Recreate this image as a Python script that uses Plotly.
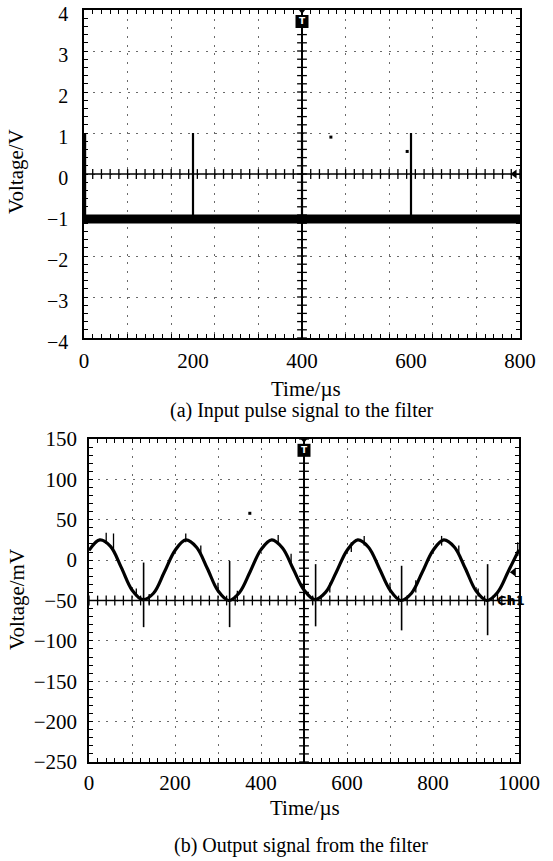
import plotly.graph_objects as go
import numpy as np

# ---------------- Panel (a): input pulse signal ----------------
in_time_range = [0, 800]          # µs
in_volt_range = [-4, 4]           # V
in_tick_times = [0, 200, 400, 600, 800]
in_tick_volts = [-4, -3, -2, -1, 0, 1, 2, 3, 4]
in_grid_dt = 80                   # scope division (µs)
pulse_times = [2, 200, 400, 600]  # µs
pulse_peak = [1.0, 1.0, 1.0, 1.0] # V
baseline_level = -1.1             # V
in_stray_t = [453, 593, 800]
in_stray_v = [0.9, 0.55, -2.05]
in_center_t = 400
in_center_v = 0
in_trigger_v = 3.72
in_ref_arrow_v = 0

# ---------------- Panel (b): output signal ----------------
out_time_range = [0, 1000]        # µs
out_volt_range = [-250, 150]      # mV
out_tick_times = [0, 100, 200, 300, 400, 500, 600, 700, 800, 900, 1000]
out_tick_text = ["0", "", "200", "", "400", "", "600", "", "800", "", "1000"]
out_tick_volts = [-250, -200, -150, -100, -50, 0, 50, 100, 150]
out_t = [0, 25, 50, 75, 100, 125, 150, 175,
         200, 225, 250, 275, 300, 325, 350, 375,
         400, 425, 450, 475, 500, 525, 550, 575,
         600, 625, 650, 675, 700, 725, 750, 775,
         800, 825, 850, 875, 900, 925, 950, 975, 1000]
out_v = [12, 25, 17, -9, -37, -49, -41, -15,
         12, 25, 16, -10, -38, -50, -40, -14,
         13, 25, 15, -11, -37, -49, -40, -15,
         12, 25, 16, -10, -37, -50, -41, -15,
         12, 25, 16, -10, -38, -50, -40, -14, 13]
spike_t = [127, 327, 527, 727, 927]
spike_top = [-3, -1, -5, -7, -5]
spike_bottom = [-83, -83, -82, -87, -93]
noise_t = [40, 57, 110, 140, 225, 260, 300, 345, 440, 470, 520, 560,
           610, 640, 700, 760, 820, 860, 905, 950, 997]
noise_lo = [20, 10, -45, -55, 22, 5, -40, -52, 20, -5, -55, -40,
            10, 18, -40, -40, 18, 5, -45, -50, 5]
noise_hi = [34, 33, -35, -42, 33, 18, -28, -38, 31, 8, -45, -28,
            22, 30, -28, -25, 30, 18, -35, -38, 22]
out_stray_t = [374]
out_stray_v = [58]
out_center_t = 500
out_center_v = -50
out_trigger_v = 136
out_ref_arrow_v = -15
ch1_t = 945

FONT = "Liberation Serif"
W, H = 553, 861
GRID_COLOR = "#6a6a6a"
GRID_DASH = "2px,6.7px"


def px_x(p):
    return p / W


def px_y(p):
    return (H - p) / H


fig = go.Figure()


def seg_xy(xs, lo, hi):
    X, Y = [], []
    for x, a, b in zip(xs, lo, hi):
        X += [x, x, None]
        Y += [a, b, None]
    return X, Y


# ---- Panel (a) traces ----
cv = np.arange(in_volt_range[0], in_volt_range[1] + 1e-9, 0.2)
fig.add_trace(go.Scatter(x=[in_center_t] * len(cv), y=cv, mode="lines+markers",
                         line=dict(color="black", width=2),
                         marker=dict(symbol="line-ew", size=7, line=dict(color="black", width=1.3)),
                         xaxis="x", yaxis="y", hoverinfo="skip", showlegend=False))
ch = np.arange(in_time_range[0], in_time_range[1] + 1e-9, in_grid_dt / 5)
fig.add_trace(go.Scatter(x=ch, y=[in_center_v] * len(ch), mode="lines+markers",
                         line=dict(color="black", width=1.5),
                         marker=dict(symbol="line-ns", size=7, line=dict(color="black", width=1.3)),
                         xaxis="x", yaxis="y", hoverinfo="skip", showlegend=False))
fig.add_trace(go.Scatter(x=in_time_range, y=[baseline_level] * 2, mode="lines",
                         line=dict(color="black", width=9),
                         xaxis="x", yaxis="y", hoverinfo="skip", showlegend=False))
px_, py_ = seg_xy(pulse_times, [baseline_level] * len(pulse_times), pulse_peak)
fig.add_trace(go.Scatter(x=px_, y=py_, mode="lines", line=dict(color="black", width=2.2),
                         xaxis="x", yaxis="y", hoverinfo="skip", showlegend=False))
fig.add_trace(go.Scatter(x=in_stray_t, y=in_stray_v, mode="markers",
                         marker=dict(symbol="square", size=3, color="black"),
                         xaxis="x", yaxis="y", cliponaxis=False, showlegend=False))
fig.add_trace(go.Scatter(x=[in_center_t], y=[in_volt_range[1]], mode="markers",
                         marker=dict(symbol="triangle-down", size=8, color="black"),
                         xaxis="x", yaxis="y", cliponaxis=False, showlegend=False))
fig.add_trace(go.Scatter(x=[in_center_t], y=[in_trigger_v], mode="markers",
                         marker=dict(symbol="square", size=13, color="black"),
                         xaxis="x", yaxis="y", cliponaxis=False, showlegend=False))
fig.add_trace(go.Scatter(x=[in_time_range[0] - 7], y=[in_ref_arrow_v], mode="markers",
                         marker=dict(symbol="triangle-right", size=9, color="black"),
                         xaxis="x", yaxis="y", cliponaxis=False, showlegend=False))
fig.add_trace(go.Scatter(x=[in_time_range[1] - 10], y=[in_ref_arrow_v], mode="markers",
                         marker=dict(symbol="triangle-left", size=8, color="black"),
                         xaxis="x", yaxis="y", cliponaxis=False, showlegend=False))
fig.add_trace(go.Scatter(x=[], y=[], xaxis="x3", yaxis="y", showlegend=False))

# ---- Panel (b) traces ----
cv2 = np.arange(out_volt_range[0], out_volt_range[1] + 1e-9, 10)
fig.add_trace(go.Scatter(x=[out_center_t] * len(cv2), y=cv2, mode="lines+markers",
                         line=dict(color="black", width=2),
                         marker=dict(symbol="line-ew", size=7, line=dict(color="black", width=1.3)),
                         xaxis="x2", yaxis="y2", hoverinfo="skip", showlegend=False))
ch2 = np.arange(out_time_range[0], out_time_range[1] + 1e-9, 20)
fig.add_trace(go.Scatter(x=ch2, y=[out_center_v] * len(ch2), mode="lines+markers",
                         line=dict(color="black", width=1.5),
                         marker=dict(symbol="line-ns", size=7, line=dict(color="black", width=1.3)),
                         xaxis="x2", yaxis="y2", hoverinfo="skip", showlegend=False))
nx, ny = seg_xy(noise_t, noise_lo, noise_hi)
fig.add_trace(go.Scatter(x=nx, y=ny, mode="lines", line=dict(color="black", width=1.3),
                         xaxis="x2", yaxis="y2", hoverinfo="skip", showlegend=False))
fig.add_trace(go.Scatter(x=out_t, y=out_v, mode="lines", line=dict(color="black", width=3.2, shape="spline"),
                         xaxis="x2", yaxis="y2", hoverinfo="skip", showlegend=False))
sx, sy = seg_xy(spike_t, spike_top, spike_bottom)
fig.add_trace(go.Scatter(x=sx, y=sy, mode="lines", line=dict(color="black", width=1.6),
                         xaxis="x2", yaxis="y2", hoverinfo="skip", showlegend=False))
fig.add_trace(go.Scatter(x=out_stray_t, y=out_stray_v, mode="markers",
                         marker=dict(symbol="square", size=3, color="black"),
                         xaxis="x2", yaxis="y2", showlegend=False))
fig.add_trace(go.Scatter(x=[out_center_t], y=[out_volt_range[1]], mode="markers",
                         marker=dict(symbol="triangle-down", size=8, color="black"),
                         xaxis="x2", yaxis="y2", cliponaxis=False, showlegend=False))
fig.add_trace(go.Scatter(x=[out_center_t], y=[out_trigger_v], mode="markers",
                         marker=dict(symbol="square", size=13, color="black"),
                         xaxis="x2", yaxis="y2", cliponaxis=False, showlegend=False))
fig.add_trace(go.Scatter(x=[out_time_range[0] - 14], y=[0], mode="markers",
                         marker=dict(symbol="triangle-right", size=9, color="black"),
                         xaxis="x2", yaxis="y2", cliponaxis=False, showlegend=False))
fig.add_trace(go.Scatter(x=[out_time_range[1] - 12], y=[out_ref_arrow_v], mode="markers",
                         marker=dict(symbol="triangle-left", size=8, color="black"),
                         xaxis="x2", yaxis="y2", cliponaxis=False, showlegend=False))

tickfont = dict(family=FONT, size=21, color="black")
tickfont_top_y = dict(family=FONT, size=20, color="black")

common_line = dict(showline=True, linecolor="black", linewidth=1.5, zeroline=False,
                   automargin=False, ticklabeloverflow="allow")

fig.update_layout(
    width=W, height=H, margin=dict(l=0, r=0, t=0, b=0, pad=0), autosize=False,
    paper_bgcolor="white", plot_bgcolor="white", showlegend=False,
    xaxis=dict(domain=[px_x(84), px_x(520)], anchor="y", range=in_time_range,
               tickmode="array", tickvals=in_tick_times, ticks="", showgrid=False,
               mirror=True, tickfont=tickfont, ticklabelstandoff=3, **common_line),
    xaxis3=dict(overlaying="x", anchor="y", range=in_time_range, tick0=0, dtick=in_grid_dt,
                showticklabels=False, showgrid=True, gridcolor=GRID_COLOR, gridwidth=1.4,
                griddash=GRID_DASH, ticks="inside", ticklen=4, tickwidth=1.2, tickcolor="black",
                minor=dict(dtick=in_grid_dt / 5, ticks="inside", ticklen=4, tickwidth=1.2,
                           tickcolor="black", showgrid=False),
                mirror="ticks", **common_line),
    yaxis=dict(domain=[px_y(338), px_y(10)], anchor="x", range=in_volt_range,
               tickmode="array", tickvals=in_tick_volts,
               showgrid=True, gridcolor=GRID_COLOR, gridwidth=1.4, griddash=GRID_DASH,
               ticks="inside", ticklen=4, tickwidth=1.2, tickcolor="black",
               minor=dict(dtick=0.2, ticks="inside", ticklen=4, tickwidth=1.2,
                          tickcolor="black", showgrid=False),
               mirror="ticks", tickfont=tickfont_top_y, ticklabelstandoff=10, ticklabelshift=4,
               **common_line),
    xaxis2=dict(domain=[px_x(89), px_x(519)], anchor="y2", range=out_time_range,
                tickmode="array", tickvals=out_tick_times, ticktext=out_tick_text,
                showgrid=True, gridcolor=GRID_COLOR, gridwidth=1.4, griddash=GRID_DASH,
                ticks="inside", ticklen=4, tickwidth=1.2, tickcolor="black",
                minor=dict(dtick=20, ticks="inside", ticklen=4, tickwidth=1.2,
                           tickcolor="black", showgrid=False),
                mirror="ticks", tickfont=tickfont, ticklabelstandoff=1, **common_line),
    yaxis2=dict(domain=[px_y(762), px_y(439)], anchor="x2", range=out_volt_range,
                tickmode="array", tickvals=out_tick_volts,
                showgrid=True, gridcolor=GRID_COLOR, gridwidth=1.4, griddash=GRID_DASH,
                ticks="inside", ticklen=4, tickwidth=1.2, tickcolor="black",
                minor=dict(dtick=10, ticks="inside", ticklen=4, tickwidth=1.2,
                           tickcolor="black", showgrid=False),
                mirror="ticks", tickfont=tickfont, ticklabelstandoff=6, **common_line),
)

title_font = dict(family=FONT, size=21, color="black")
cap_font = dict(family=FONT, size=20, color="black")
annotations = [
    dict(text="Voltage/V", x=px_x(16), y=px_y(172), textangle=-90, font=title_font),
    dict(text="Time/µs", x=px_x(306), y=px_y(389), font=title_font),
    dict(text="(a) Input pulse signal to the filter", x=px_x(302), y=px_y(410), font=cap_font),
    dict(text="Voltage/mV", x=px_x(17), y=px_y(600), textangle=-90, font=title_font),
    dict(text="Time/µs", x=px_x(305), y=px_y(808), font=title_font),
    dict(text="(b) Output signal from the filter", x=px_x(301), y=px_y(845), font=cap_font),
]
for a in annotations:
    fig.add_annotation(xref="paper", yref="paper", showarrow=False,
                       xanchor="center", yanchor="middle", **a)

fig.add_annotation(x=in_center_t, y=in_trigger_v, xref="x", yref="y", text="<b>T</b>",
                   showarrow=False, font=dict(family="DejaVu Sans", size=9, color="white"))
fig.add_annotation(x=out_center_t, y=out_trigger_v, xref="x2", yref="y2", text="<b>T</b>",
                   showarrow=False, font=dict(family="DejaVu Sans", size=9, color="white"))
fig.add_annotation(x=ch1_t, y=out_center_v, xref="x2", yref="y2", text="<b>Ch1</b>",
                   showarrow=False, xanchor="left", yanchor="middle",
                   font=dict(family="DejaVu Sans", size=13, color="black"))

fig.write_html("out.html", config={"displayModeBar": False},
               post_script="document.body.style.margin='0';document.body.style.overflow='hidden';")
